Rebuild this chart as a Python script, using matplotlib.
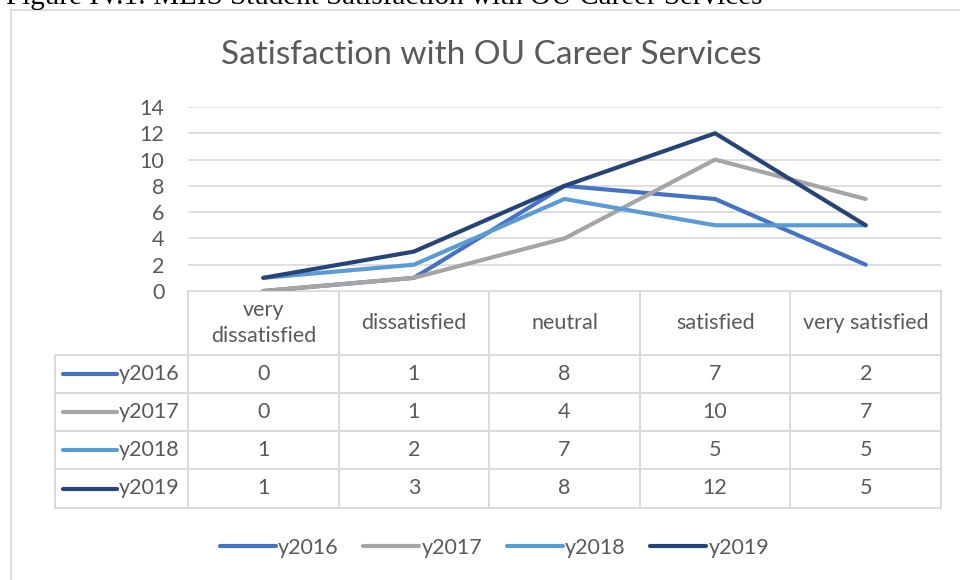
import matplotlib.pyplot as plt
import numpy as np

categories = ['very\ndissatisfied', 'dissatisfied', 'neutral', 'satisfied', 'very satisfied']
series_names = ['y2016', 'y2017', 'y2018', 'y2019']
y2016 = [0, 1, 8, 7, 2]
y2017 = [0, 1, 4, 10, 7]
y2018 = [1, 2, 7, 5, 5]
y2019 = [1, 3, 8, 12, 5]
series = [y2016, y2017, y2018, y2019]
colors = ['#4472C4', '#A5A5A5', '#5B9BD5', '#264478']
yticks = [0, 2, 4, 6, 8, 10, 12, 14]

plt.rcParams['font.family'] = ['Lato', 'DejaVu Sans']
txt = '#595959'
grid = '#d9d9d9'
fs = 15.5

W, H = 960, 580
fig = plt.figure(figsize=(9.6, 5.8), dpi=100)

# pixel geometry of plot area / table
x0, x1 = 188, 941
ytop, ybot = 107, 291
lab_x = 55
row_edges = [291, 355, 393, 431, 469, 508]

ax = fig.add_axes([x0 / W, 1 - ybot / H, (x1 - x0) / W, (ybot - ytop) / H])
xs = np.arange(len(categories))
for name, vals, c in zip(series_names, series, colors):
    ax.plot(xs, vals, color=c, lw=3, solid_capstyle='round', label=name, zorder=3)
ax.set_xlim(-0.5, len(categories) - 0.5)
ax.set_ylim(0, 14)
ax.set_yticks(yticks)
ax.set_xticks([])
for s in ax.spines.values():
    s.set_visible(False)
ax.yaxis.grid(True, color=grid, lw=1.2)
ax.set_axisbelow(True)
ax.tick_params(axis='y', length=0, labelsize=fs, labelcolor=txt, pad=17)

# overlay in pixel coords for table, border, titles
ov = fig.add_axes([0, 0, 1, 1], zorder=-1)
ov.set_xlim(0, W)
ov.set_ylim(H, 0)
ov.axis('off')

ov.plot([11, 11], [10, H + 5], color=grid, lw=1.2)
ov.plot([11, W + 5], [10, 10], color=grid, lw=1.2)

fig.text(6 / W, 1 - 4 / H, 'Figure IV.1: MLIS Student Satisfaction with OU Career Services',
         family='Liberation Serif', fontsize=21, va='baseline', ha='left', color='black')
ov.text(491, 55, 'Satisfaction with OU Career Services', ha='center', va='center',
        fontsize=24, color=txt)

cw = (x1 - x0) / len(categories)
col_edges = [x0 + i * cw for i in range(len(categories) + 1)]
for i, e in enumerate(col_edges):
    ov.plot([e, e], [row_edges[0], row_edges[-1]], color=grid, lw=1.4)
ov.plot([lab_x, lab_x], [row_edges[1], row_edges[-1]], color=grid, lw=1.4)
ov.plot([x0, x1], [row_edges[0]] * 2, color=grid, lw=1.4)
for r in row_edges[1:]:
    ov.plot([lab_x, x1], [r, r], color=grid, lw=1.4)

hy = (row_edges[0] + row_edges[1]) / 2
for i, cat in enumerate(categories):
    ov.text(x0 + (i + 0.5) * cw, hy, cat, ha='center', va='center', fontsize=fs,
            color=txt, linespacing=1.35)
for j, (name, vals, c) in enumerate(zip(series_names, series, colors)):
    ry = (row_edges[j + 1] + row_edges[j + 2]) / 2
    ov.plot([63, 117], [ry, ry], color=c, lw=3, solid_capstyle='round')
    ov.text(119, ry, name, ha='left', va='center', fontsize=fs, color=txt)
    for i, v in enumerate(vals):
        ov.text(x0 + (i + 0.5) * cw, ry, str(v), ha='center', va='center', fontsize=fs, color=txt)

leg = fig.legend(loc='center', bbox_to_anchor=(0.515, 1 - 548 / H), ncol=4, frameon=False,
                 fontsize=fs, handlelength=2.6, handletextpad=0.1, columnspacing=1.15)
for t in leg.get_texts():
    t.set_color(txt)

fig.savefig('out.png', dpi=100)
